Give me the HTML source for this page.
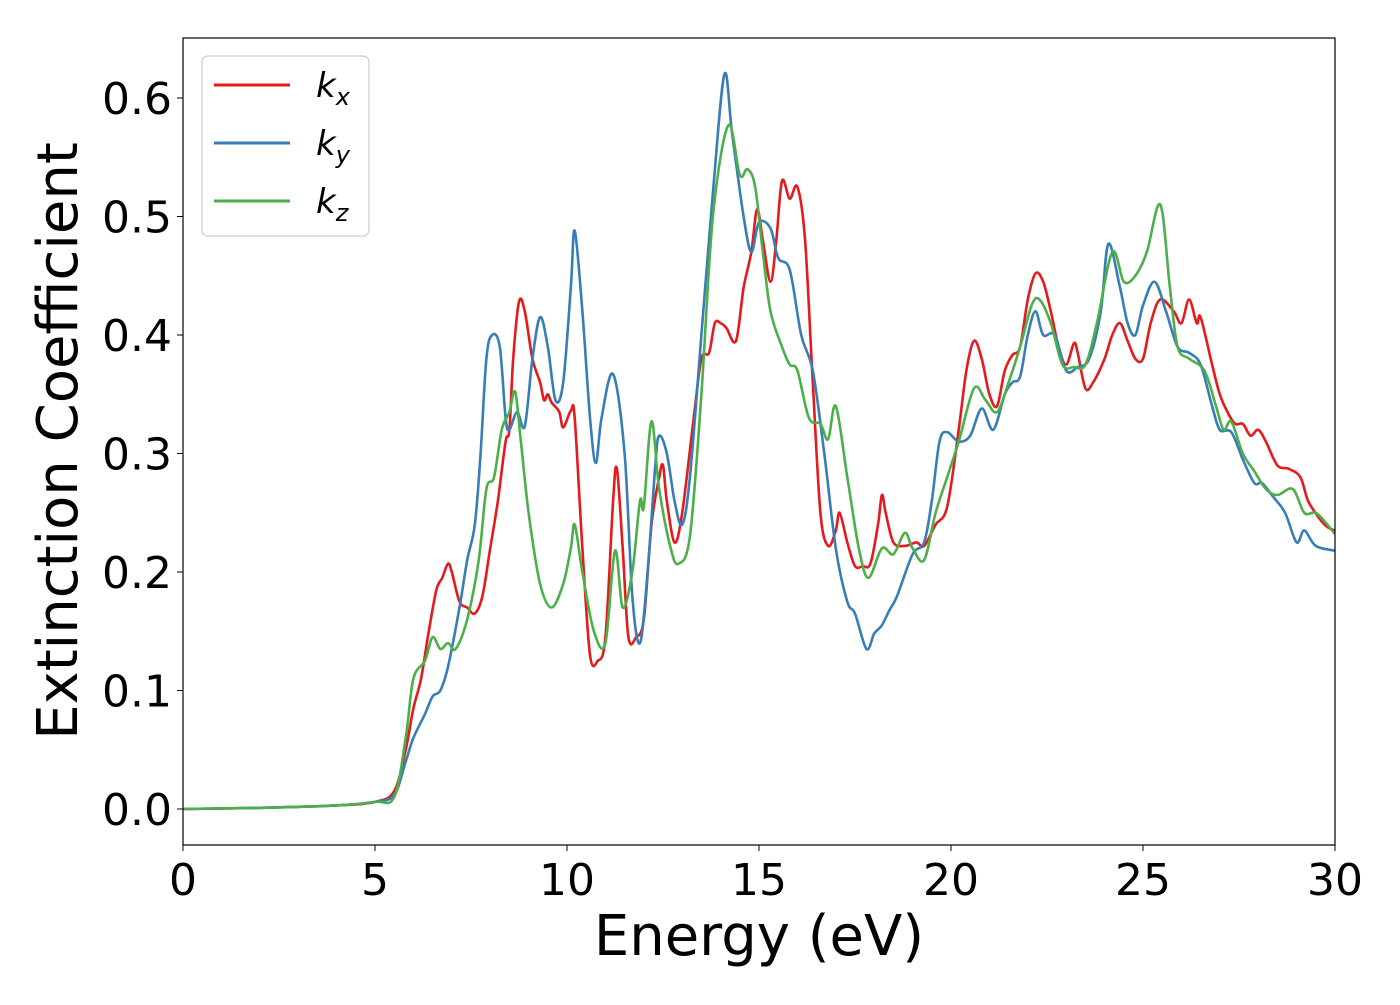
<!DOCTYPE html>
<html><head><meta charset="utf-8"><style>
body{margin:0;background:#fff;font-family:"Liberation Sans","DejaVu Sans",sans-serif}
svg text{font-family:"DejaVu Sans","Liberation Sans",sans-serif}
</style></head><body>
<svg id="chart" width="1400" height="1000" xmlns="http://www.w3.org/2000/svg">
<rect width="1400" height="1000" fill="#fff"/>
<g id="series"></g>
<rect x="183" y="38" width="1152" height="807" fill="none" stroke="#000" stroke-width="1.2"/>
<g id="xticks"></g>
<g id="yticks"></g>
<text x="759" y="955" font-size="56" text-anchor="middle">Energy (eV)</text>
<text transform="translate(77,441) rotate(-90)" font-size="56" text-anchor="middle">Extinction Coefficient</text>
<g>
<rect x="202" y="56" width="167" height="180" rx="6" fill="#fff" fill-opacity="0.8" stroke="#ccc" stroke-width="1.2"/>
<line x1="214" y1="85" x2="290" y2="85" stroke="#e41a1c" stroke-width="3"/>
<text x="316" y="97" font-size="34" font-style="italic">k<tspan font-size="24" dy="8">x</tspan></text>
<line x1="214" y1="143" x2="290" y2="143" stroke="#377eb8" stroke-width="3"/>
<text x="316" y="155" font-size="34" font-style="italic">k<tspan font-size="24" dy="8">y</tspan></text>
<line x1="214" y1="201" x2="290" y2="201" stroke="#4daf4a" stroke-width="3"/>
<text x="316" y="213" font-size="34" font-style="italic">k<tspan font-size="24" dy="8">z</tspan></text>
</g>
</svg>
<script>
const xTicks=[0,5,10,15,20,25,30];
const yTicks=[0.0,0.1,0.2,0.3,0.4,0.5,0.6];
const kxE=[0,2,4,5,5.5,5.8,6.0,6.2,6.4,6.6,6.75,6.9,7.0,7.2,7.4,7.6,7.8,8.0,8.2,8.4,8.5,8.6,8.75,8.9,9.1,9.3,9.4,9.5,9.6,9.8,9.9,10.1,10.2,10.4,10.6,10.8,11.0,11.2,11.3,11.45,11.6,11.8,12.0,12.2,12.4,12.5,12.6,12.8,13.0,13.3,13.5,13.7,13.85,14.0,14.15,14.4,14.6,14.8,14.95,15.1,15.3,15.45,15.6,15.8,16.0,16.2,16.4,16.6,16.8,17.0,17.1,17.3,17.5,17.7,17.9,18.1,18.2,18.3,18.5,18.8,19.1,19.3,19.6,19.9,20.2,20.4,20.6,20.8,21.0,21.2,21.4,21.6,21.8,22.0,22.2,22.4,22.6,22.8,23.0,23.2,23.3,23.5,23.7,24.0,24.2,24.4,24.6,24.8,25.0,25.2,25.45,25.8,26.0,26.2,26.4,26.5,26.8,27.0,27.2,27.4,27.6,27.8,28.0,28.2,28.5,28.8,29.1,29.3,29.6,29.8,30];
const kxV=[0,0.001,0.003,0.006,0.015,0.05,0.085,0.11,0.15,0.185,0.195,0.207,0.2,0.175,0.17,0.165,0.18,0.22,0.26,0.31,0.32,0.38,0.428,0.42,0.38,0.36,0.345,0.35,0.343,0.335,0.322,0.336,0.33,0.22,0.13,0.125,0.145,0.26,0.287,0.22,0.145,0.145,0.16,0.24,0.28,0.29,0.26,0.225,0.25,0.33,0.38,0.385,0.41,0.41,0.406,0.395,0.44,0.47,0.506,0.48,0.445,0.48,0.53,0.515,0.525,0.48,0.36,0.25,0.222,0.235,0.25,0.225,0.205,0.205,0.207,0.24,0.265,0.25,0.225,0.222,0.225,0.222,0.24,0.255,0.32,0.37,0.395,0.38,0.35,0.34,0.37,0.383,0.39,0.43,0.452,0.445,0.42,0.39,0.375,0.393,0.385,0.355,0.36,0.38,0.4,0.41,0.395,0.38,0.38,0.41,0.43,0.42,0.41,0.43,0.41,0.415,0.375,0.35,0.335,0.325,0.325,0.315,0.32,0.31,0.29,0.287,0.28,0.26,0.245,0.238,0.235];
const kyE=[0,2,4,5,5.5,5.8,6.0,6.3,6.5,6.7,6.9,7.2,7.4,7.6,7.75,7.9,8.05,8.25,8.4,8.5,8.7,8.9,9.1,9.3,9.5,9.7,9.9,10.1,10.2,10.4,10.6,10.75,10.9,11.2,11.5,11.7,11.9,12.1,12.3,12.4,12.6,12.8,13.0,13.2,13.5,13.8,14.1,14.3,14.6,14.8,15.0,15.3,15.5,15.8,16.1,16.4,16.7,17.0,17.3,17.5,17.8,18.0,18.2,18.4,18.6,19.0,19.3,19.5,19.7,19.9,20.2,20.5,20.8,21.1,21.4,21.6,21.8,22.0,22.2,22.4,22.7,23.0,23.3,23.6,23.9,24.1,24.4,24.6,24.8,25.0,25.3,25.6,25.9,26.2,26.5,26.8,27.0,27.3,27.6,27.9,28.1,28.4,28.7,29.0,29.2,29.5,30];
const kyV=[0,0.001,0.003,0.006,0.012,0.04,0.06,0.08,0.095,0.1,0.12,0.17,0.21,0.24,0.3,0.38,0.4,0.39,0.33,0.32,0.335,0.323,0.38,0.415,0.39,0.345,0.36,0.44,0.488,0.42,0.33,0.292,0.33,0.367,0.3,0.18,0.14,0.2,0.29,0.315,0.3,0.26,0.24,0.28,0.4,0.52,0.62,0.57,0.5,0.47,0.495,0.49,0.465,0.455,0.4,0.37,0.3,0.22,0.175,0.165,0.135,0.148,0.155,0.168,0.18,0.215,0.225,0.26,0.31,0.318,0.31,0.315,0.338,0.32,0.35,0.36,0.365,0.4,0.42,0.4,0.4,0.37,0.373,0.38,0.42,0.477,0.44,0.41,0.4,0.425,0.445,0.42,0.39,0.385,0.375,0.34,0.32,0.318,0.295,0.275,0.275,0.263,0.25,0.225,0.235,0.222,0.218];
const kzE=[0,2,4,5,5.5,5.8,6.0,6.3,6.5,6.7,6.9,7.1,7.4,7.7,7.9,8.1,8.3,8.5,8.65,8.8,9.0,9.3,9.6,9.9,10.1,10.2,10.4,10.7,11.0,11.25,11.45,11.7,11.9,12.0,12.2,12.4,12.7,12.9,13.2,13.5,13.8,14.2,14.5,14.7,14.9,15.1,15.3,15.6,15.8,16.0,16.3,16.6,16.8,17.0,17.3,17.6,17.85,18.2,18.5,18.8,19.0,19.3,19.6,19.9,20.2,20.6,20.9,21.2,21.5,21.8,22.1,22.3,22.6,22.9,23.2,23.5,23.8,24.2,24.5,24.8,25.1,25.45,25.7,25.9,26.2,26.6,26.9,27.1,27.3,27.6,27.9,28.2,28.5,28.9,29.2,29.5,29.8,30];
const kzV=[0,0.001,0.003,0.006,0.01,0.06,0.11,0.125,0.145,0.135,0.14,0.135,0.16,0.21,0.27,0.28,0.32,0.335,0.352,0.31,0.25,0.19,0.17,0.19,0.22,0.24,0.2,0.15,0.14,0.218,0.17,0.2,0.26,0.255,0.327,0.27,0.22,0.207,0.23,0.35,0.5,0.577,0.535,0.54,0.525,0.47,0.42,0.39,0.375,0.37,0.33,0.325,0.312,0.34,0.28,0.22,0.195,0.22,0.215,0.233,0.22,0.21,0.25,0.28,0.31,0.355,0.345,0.335,0.36,0.39,0.425,0.43,0.41,0.375,0.373,0.375,0.41,0.47,0.445,0.45,0.47,0.51,0.44,0.39,0.38,0.37,0.34,0.32,0.327,0.3,0.285,0.27,0.265,0.27,0.25,0.25,0.24,0.232];
const X0=183,X1=1335,Y0=809,PY=1185;
const xs=e=>X0+(e-0)/(30-0)*(X1-X0);
const ys=v=>Y0-v*PY;
const NS='http://www.w3.org/2000/svg';
function mk(tag,parent){const el=document.createElementNS(NS,tag);parent.appendChild(el);return el;}
function path(E,V){const p=E.map((e,i)=>[xs(e),ys(V[i])]);let d='M'+p[0][0].toFixed(1)+','+p[0][1].toFixed(1);
for(let i=0;i<p.length-1;i++){const a=p[Math.max(0,i-1)],b=p[i],c=p[i+1],n=p[Math.min(p.length-1,i+2)];
const c1=[b[0]+(c[0]-a[0])/6,b[1]+(c[1]-a[1])/6],c2=[c[0]-(n[0]-b[0])/6,c[1]-(n[1]-b[1])/6];
d+=' C'+c1.map(v=>v.toFixed(1))+' '+c2.map(v=>v.toFixed(1))+' '+c[0].toFixed(1)+','+c[1].toFixed(1);}return d;}
const sg=document.getElementById('series');
const cp=mk('clipPath',mk('defs',sg));cp.setAttribute('id','clip');
const cr=mk('rect',cp);cr.setAttribute('x',183);cr.setAttribute('y',38);cr.setAttribute('width',1152);cr.setAttribute('height',807);
[[kxE,kxV,'#e41a1c','kx'],[kyE,kyV,'#377eb8','ky'],[kzE,kzV,'#4daf4a','kz']].forEach(s=>{
const el=mk('path',sg);


el.setAttribute('d',path(s[0],s[1]));el.setAttribute('fill','none');el.setAttribute('stroke',s[2]);el.setAttribute('stroke-width','2.6');el.setAttribute('clip-path','url(#clip)');});
const xg=document.getElementById('xticks');
xTicks.forEach(t=>{const l=mk('line',xg);


l.setAttribute('x1',xs(t));l.setAttribute('x2',xs(t));l.setAttribute('y1',845);l.setAttribute('y2',851);l.setAttribute('stroke','#000');
const tx=mk('text',xg);


tx.setAttribute('x',xs(t));tx.setAttribute('y',895);tx.setAttribute('font-size','44');tx.setAttribute('text-anchor','middle');tx.textContent=t;});
const yg=document.getElementById('yticks');
yTicks.forEach(t=>{const l=mk('line',yg);


l.setAttribute('x1',177);l.setAttribute('x2',183);l.setAttribute('y1',ys(t));l.setAttribute('y2',ys(t));l.setAttribute('stroke','#000');
const tx=mk('text',yg);


tx.setAttribute('x',172);tx.setAttribute('y',ys(t)+16);tx.setAttribute('font-size','44');tx.setAttribute('text-anchor','end');tx.textContent=t.toFixed(1);});
</script>
</body></html>
